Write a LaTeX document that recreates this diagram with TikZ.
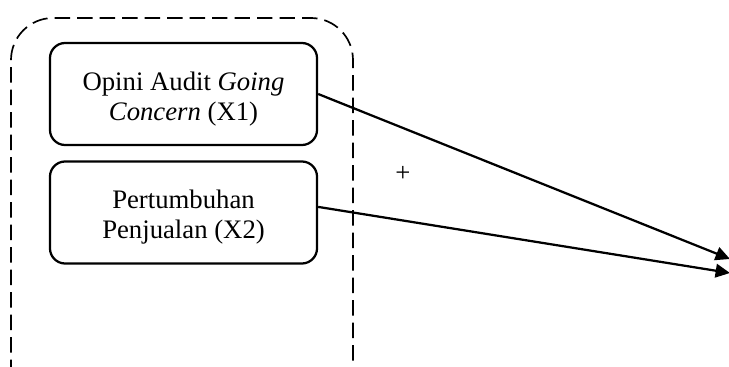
\documentclass[tikz,border=0pt]{standalone}
\usepackage{fontspec}
\setmainfont{Liberation Serif}
\usetikzlibrary{arrows.meta}
\begin{document}
\begin{tikzpicture}[x=0.025cm,y=-0.025cm]
      \tikzset{varbox/.style={draw,line width=1.6pt,rounded corners=0.38cm,minimum width=6.675cm,minimum height=2.55cm,align=center,inner sep=0pt,text height=1.45cm,font=\fontsize{19}{21.3}\selectfont}}
      \useasboundingbox (0,0) rectangle (729,367);
      % Independent group
      \draw[dash pattern=on 11pt off 5pt,line width=1.2pt,rounded corners=1.05cm] (11,420) -- (11,18) -- (353,18) -- (353,420);
      % Variables
      \node[varbox] (x1) at (183.5,94) {Opini Audit \textit{Going}\\\textit{Concern} (X1)};
      \node[varbox] (x2) at (183.5,212.5) {Pertumbuhan\\Penjualan (X2)};
      \node[font=\fontsize{19}{21.3}\selectfont] (plus) at (403,174) {+};
      % Arrows to Y
      \coordinate (y1) at (730,259);
      \coordinate (y2) at (730,273);
      \draw[-{Triangle[length=0.36cm,width=0.34cm]},line width=1.6pt] (x1.east) -- (y1);
      \draw[-{Triangle[length=0.36cm,width=0.34cm]},line width=1.6pt] ([yshift=0.14cm]x2.east) -- (y2);
    \end{tikzpicture}
\end{document}
